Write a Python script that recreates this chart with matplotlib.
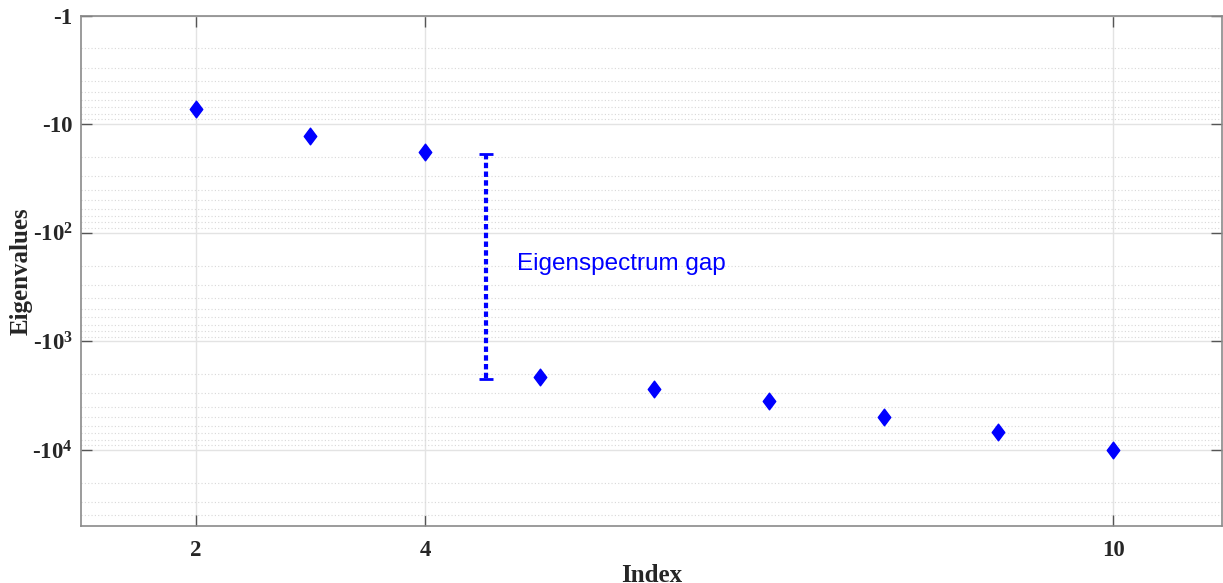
import matplotlib
matplotlib.use("Agg")
import matplotlib.pyplot as plt
import numpy as np
from matplotlib.ticker import FixedLocator, LogLocator, NullLocator
from matplotlib.path import Path

# ---- data ----
index = [2, 3, 4, 5, 6, 7, 8, 9, 10]
eigenvalues = [-7.2, -12.7, -18.1, -2110, -2750, -3510, -4990, -6770, -9910]
gap_x = 4.53
gap_top = -18.6
gap_bottom = -2200
gap_label = "Eigenspectrum gap"
gap_label_pos = (4.8, -192)
xticks = [2, 4, 10]
yticks = [-1, -10, -100, -1000, -10000]
ytick_labels = ["-1", "-10", "-10$^{2}$", "-10$^{3}$", "-10$^{4}$"]

plt.rcParams['font.family'] = ['Liberation Serif', 'DejaVu Serif']
plt.rcParams['mathtext.default'] = 'regular'

W, H = 1223, 583
fig = plt.figure(figsize=(W / 100, H / 100), dpi=100)
left, right, top, bottom = 81, 1222, 15.7, 526
ax = fig.add_axes([left / W, 1 - bottom / H, (right - left) / W, (bottom - top) / H])

diamond = Path([(0, 1), (0.75, 0), (0, -1), (-0.75, 0), (0, 1)],
               [Path.MOVETO, Path.LINETO, Path.LINETO, Path.LINETO, Path.CLOSEPOLY])

mag = [-v for v in eigenvalues]
ax.set_yscale('log')
ax.plot(index, mag, ls='none', marker=diamond, ms=12, color='#0000ff', mec='#0000ff')

# gap bar
ax.plot([gap_x, gap_x], [-gap_top, -gap_bottom], color='#0000ff', lw=3,
        ls=(0, (1.3, 0.8)), solid_capstyle='butt')
ax.plot([gap_x, gap_x], [-gap_top, -gap_bottom], ls='none', marker='_', ms=10,
        mew=2, color='#0000ff')
ax.text(gap_label_pos[0], -gap_label_pos[1], gap_label, color='#0000ff',
        fontsize=17.5, family=['Liberation Sans', 'DejaVu Sans'], va='center', ha='left')

ax.set_xlim(1, 10.95)
ax.set_ylim(1, 5e4)
ax.invert_yaxis()

ax.xaxis.set_major_locator(FixedLocator(xticks))
ax.xaxis.set_minor_locator(NullLocator())
ax.set_xticklabels([str(t) for t in xticks])
ax.yaxis.set_major_locator(FixedLocator([-v for v in yticks]))
ax.yaxis.set_minor_locator(LogLocator(base=10, subs=np.arange(2, 10), numticks=20))
ax.set_yticklabels(ytick_labels)

ax.grid(True, which='major', color='#e3e3e3', lw=1, ls='-')
ax.grid(True, which='minor', axis='y', color='#d8d8d8', lw=0.8, ls=(0, (1, 2)))
ax.set_axisbelow(True)

for s in ax.spines.values():
    s.set_color('#8a8a8a')
    s.set_linewidth(1.2)

ax.tick_params(which='major', direction='in', length=8, width=1, color='#555555',
               top=True, right=True, labelsize=16.5, labelcolor='#262626')
ax.tick_params(axis='x', which='major', pad=10)
ax.tick_params(axis='y', which='major', pad=6)
ax.tick_params(which='minor', length=0, left=False, right=False)
for lab in ax.get_xticklabels() + ax.get_yticklabels():
    lab.set_fontweight('bold')

ax.set_xlabel('Index', fontsize=18, fontweight='bold', color='#262626', labelpad=2)
ax.set_ylabel('Eigenvalues', fontsize=18, fontweight='bold', color='#262626', labelpad=0)

fig.savefig('out.png', dpi=100)
